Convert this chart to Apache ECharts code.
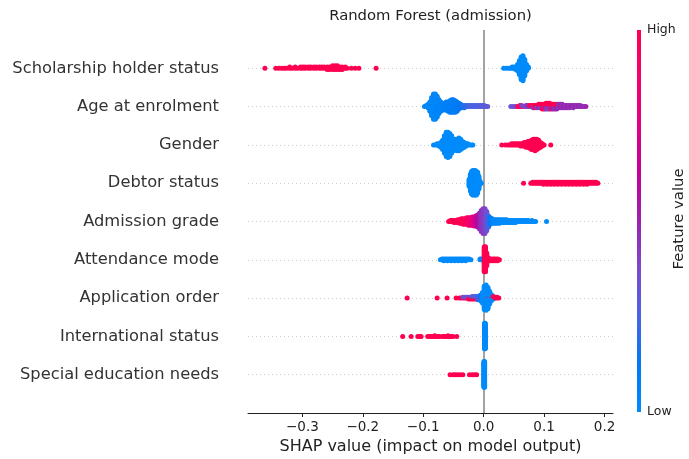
<!DOCTYPE html>
<html><head><meta charset="utf-8">
<script src="https://cdn.jsdelivr.net/npm/echarts@6/dist/echarts.min.js"></script>
<style>html,body{margin:0;padding:0;background:#fff}#c{width:689px;height:459px}</style>
</head><body><div id="c"></div>
<script>
// rows listed bottom (index 0) to top (index 8)
const featureNames = ['Special education needs','International status','Application order','Attendance mode','Admission grade','Debtor status','Gender','Age at enrolment','Scholarship holder status'];
const xTicks = [-0.3,-0.2,-0.1,0,0.1,0.2];
const colorStops = ['#008bfb','#0079f3','#4b63e3','#7d49cc','#9b23ad','#c2009c','#e00086','#f5006c','#ff0051'];

// each entry: [SHAP value, number of samples at that value, normalised feature value (0 low .. 1 high)]
const scholarship = [
  [-0.362,1,1],[-0.344,1,1],[-0.339,1,1],[-0.334,1,1],[-0.330,1,1],[-0.326,1,1],[-0.321,2,1],[-0.317,1,1],[-0.312,2,1],[-0.308,1,1],
  [-0.303,2,1],[-0.299,2,1],[-0.295,2,1],[-0.290,2,1],[-0.286,2,1],[-0.281,2,1],[-0.277,2,1],[-0.272,2,1],[-0.268,2,1],[-0.264,2,1],
  [-0.259,3,1],[-0.255,3,1],[-0.250,4,1],[-0.246,4,1],[-0.242,4,1],[-0.238,3,1],[-0.234,3,1],[-0.229,2,1],[-0.226,1,1],[-0.219,1,1],
  [-0.2125,1,1],[-0.2065,1,1],[-0.178,1,1],
  [0.033,1,0],[0.037,1,0],[0.041,1,0],[0.044,1,0],[0.047,2,0],[0.050,2,0],[0.053,3,0],[0.056,6,0],[0.059,12,0],[0.062,19,0],
  [0.065,21,0],[0.068,14,0],[0.071,6,0],[0.074,2,0]
];
const age = [
  [-0.098,1,0.02],[-0.095,2,0.02],[-0.092,4,0.02],[-0.089,9,0.02],[-0.086,17,0.03],[-0.083,23,0.03],[-0.080,23,0.03],[-0.077,19,0.04],
  [-0.074,13,0.05],[-0.071,9,0.05],[-0.068,7,0.06],[-0.065,7,0.06],[-0.062,8,0.07],[-0.059,9,0.07],[-0.056,11,0.08],[-0.053,12,0.08],
  [-0.050,12,0.09],[-0.047,11,0.1],[-0.044,9,0.1],[-0.041,6,0.12],[-0.038,4,0.14],
  [-0.035,3,0.16],[-0.032,3,0.18],[-0.029,2,0.2],[-0.026,2,0.22],[-0.023,2,0.24],[-0.020,2,0.25],[-0.017,2,0.25],[-0.014,2,0.26],
  [-0.011,2,0.26],[-0.008,2,0.27],[-0.005,2,0.27],[-0.002,2,0.28],[0.001,2,0.28],[0.004,1,0.28],[0.0066,1,0.3],
  [0.045,1,0.3],[0.049,1,0.35],[0.053,1,0.4],[0.057,1,1],[0.060,2,1],[0.063,1,1],[0.063,1,0.4],[0.067,1,0.4],[0.070,2,0.4],
  [0.073,1,0.4],[0.073,1,0.45],[0.076,1,0.4],[0.076,1,1],[0.079,1,0.45],[0.079,1,1],[0.082,2,0.4],[0.082,1,1],[0.085,1,0.45],
  [0.085,2,1],[0.088,2,0.4],[0.088,1,1],[0.091,2,0.45],[0.091,2,1],[0.094,2,0.4],[0.094,2,1],[0.097,2,0.45],[0.097,3,1],
  [0.100,2,0.4],[0.100,3,1],[0.103,3,0.45],[0.103,3,1],[0.106,3,0.4],[0.106,3,1],[0.109,3,0.45],[0.109,3,1],[0.112,2,0.4],
  [0.112,3,1],[0.115,3,0.5],[0.115,2,1],[0.118,3,0.45],[0.118,2,1],[0.121,3,0.5],[0.121,2,1],[0.124,3,0.45],[0.124,1,1],
  [0.127,3,0.5],[0.127,1,1],[0.130,3,0.45],[0.130,1,1],[0.133,3,0.5],[0.136,3,0.45],[0.139,3,0.5],[0.142,3,0.45],[0.145,2,0.5],
  [0.148,3,0.45],[0.151,2,0.5],[0.154,2,0.45],[0.157,2,0.5],[0.160,2,0.45],[0.163,1,0.5],[0.166,1,0.45],[0.169,1,0.5]
];
const gender = [
  [-0.083,1,0],[-0.080,1,0],[-0.077,2,0],[-0.074,3,0],[-0.071,5,0],[-0.068,9,0],[-0.065,16,0],[-0.062,22,0],[-0.059,23,0],
  [-0.056,21,0],[-0.053,16,0],[-0.050,11,0],[-0.047,10,0],[-0.044,11,0],[-0.041,12,0],[-0.038,10,0],[-0.035,7,0],[-0.032,5,0],
  [-0.029,3,0],[-0.026,2,0],[-0.023,1,0],[-0.020,1,0],[-0.018,1,0],
  [0.030,1,1],[0.036,1,1],[0.040,1,1],[0.043,1,1],[0.046,2,1],[0.049,2,1],[0.052,2,1],[0.055,2,1],[0.058,2,1],[0.061,3,1],
  [0.064,3,1],[0.067,4,1],[0.070,5,1],[0.073,6,1],[0.076,7,1],[0.079,9,1],[0.082,10,1],[0.085,11,1],[0.088,10,1],[0.091,8,1],
  [0.094,5,1],[0.097,3,1],[0.100,1,1],[0.111,1,1]
];
const debtor = [
  [-0.024,8,0],[-0.022,18,0],[-0.020,24,0],[-0.018,26,0],[-0.016,26,0],[-0.014,26,0],[-0.012,25,0],[-0.010,22,0],[-0.008,14,0],
  [-0.006,4,0],[-0.004,1,0],
  [0.066,1,1],[0.078,1,1],[0.081,2,1],[0.084,2,1],[0.087,2,1],[0.090,2,1],[0.093,2,1],[0.096,2,1],[0.099,3,1],[0.102,2,1],
  [0.105,3,1],[0.108,2,1],[0.111,3,1],[0.114,2,1],[0.117,3,1],[0.120,2,1],[0.123,3,1],[0.126,2,1],[0.129,3,1],[0.132,2,1],
  [0.135,3,1],[0.138,2,1],[0.141,3,1],[0.144,2,1],[0.147,3,1],[0.150,2,1],[0.153,3,1],[0.156,2,1],[0.159,3,1],[0.162,2,1],
  [0.165,3,1],[0.168,2,1],[0.171,3,1],[0.174,2,1],[0.177,2,1],[0.180,2,1],[0.183,2,1],[0.186,2,1],[0.189,1,1]
];
const admission = [
  [-0.058,1,1],[-0.055,2,1],[-0.052,2,1],[-0.049,3,1],[-0.046,3,1],[-0.043,4,1],[-0.040,5,1],[-0.037,6,1],[-0.034,7,1],
  [-0.031,7,0.95],[-0.028,8,0.95],[-0.025,9,0.9],[-0.022,9,0.85],[-0.019,10,0.8],[-0.016,11,0.75],[-0.013,12,0.68],
  [-0.010,14,0.6],[-0.007,18,0.52],[-0.004,24,0.45],[-0.001,28,0.42],[0.002,28,0.4],[0.005,22,0.33],[0.008,13,0.22],
  [0.011,8,0.12],[0.014,6,0.06],[0.017,5,0.03],[0.020,5,0.02],[0.023,5,0.02],[0.026,5,0.02],[0.029,4,0.01],[0.032,4,0.01],
  [0.035,4,0],[0.038,4,0],[0.041,3,0],[0.044,3,0],[0.047,3,0],[0.050,3,0],[0.053,3,0],[0.056,2,0],[0.059,2,0],[0.062,2,0],
  [0.065,2,0],[0.068,2,0],[0.071,2,0],[0.074,2,0],[0.077,1,0],[0.080,2,0],[0.083,1,0],[0.086,1,0],[0.104,1,0]
];
const attendance = [
  [-0.0716,1,0],[-0.069,2,0],[-0.066,3,0],[-0.063,2,0],[-0.060,3,0],[-0.057,2,0],[-0.054,3,0],[-0.051,2,0],[-0.048,3,0],
  [-0.045,2,0],[-0.042,3,0],[-0.039,2,0],[-0.036,3,0],[-0.033,2,0],[-0.030,3,0],[-0.027,2,0],[-0.024,2,0],[-0.021,1,0],
  [-0.006,2,0],[-0.004,2,0],
  [0.001,30,1],[0.003,30,1],[0.005,16,1],[0.008,4,1],[0.011,3,1],[0.014,3,1],[0.017,3,1],[0.020,3,1],[0.023,3,1],[0.026,1,1]
];
const application = [
  [-0.1266,1,1],[-0.077,1,1],[-0.0605,1,1],[-0.0456,1,1],[-0.040,1,1],[-0.037,1,1],[-0.034,1,1],[-0.034,1,0.35],
  [-0.031,1,1],[-0.031,1,0.3],[-0.028,1,1],[-0.028,1,0.3],[-0.025,2,1],[-0.025,1,0.3],[-0.022,2,1],[-0.022,1,0.3],
  [-0.019,2,1],[-0.019,2,0.28],[-0.016,2,1],[-0.016,2,0.25],[-0.013,2,1],[-0.013,2,0.25],[-0.010,2,1],[-0.010,3,0.22],
  [-0.007,2,1],[-0.007,4,0.2],[-0.004,2,1],[-0.004,7,0.1],[-0.002,14,0],[0.001,30,0],[0.004,32,0],[0.007,26,0],[0.007,1,1],
  [0.010,14,0],[0.010,2,1],[0.013,6,0],[0.013,2,1],[0.016,2,0],[0.016,2,1],[0.019,2,1],[0.022,2,1],[0.025,1,1]
];
const international = [
  [-0.134,1,1],[-0.120,1,1],[-0.109,1,1],[-0.106,1,1],[-0.1035,1,1],[-0.0926,1,1],[-0.090,1,1],[-0.087,1,1],[-0.084,1,1],
  [-0.081,2,1],[-0.078,1,1],[-0.075,1,1],[-0.073,1,1],[-0.068,1,1],[-0.065,1,1],[-0.062,1,1],[-0.059,2,1],[-0.056,1,1],
  [-0.053,1,1],[-0.051,1,1],[-0.0446,1,1],
  [0.0015,40,0],[0.0025,40,0]
];
const special = [
  [-0.0556,1,1],[-0.0505,1,1],[-0.047,1,1],[-0.043,1,1],[-0.039,1,1],[-0.0345,1,1],[-0.0235,1,1],[-0.019,1,1],[-0.015,1,1],
  [-0.0116,1,1],
  [0.0005,40,0],[0.0015,40,0]
];
const rows = [special, international, application, attendance, admission, debtor, gender, age, scholarship];

// beeswarm stacking as in shap's summary plot (alternating layers above / below the row line)
function swarm(entries, rowIndex) {
  const groups = new Map(); const order = [];
  entries.forEach(([v, n, f]) => {
    const k = v.toFixed(4);
    if (!groups.has(k)) { groups.set(k, []); order.push(k); }
    groups.get(k).push({ v, n, f });
  });
  const pts = []; let maxOff = 0;
  order.forEach(k => {
    const list = groups.get(k).map(e => ({ v: e.v, f: e.f, left: e.n }));
    let layer = 0, any = true;
    while (any) {
      any = false;
      for (const e of list) {
        if (e.left > 0) {
          e.left--; any = true;
          const off = Math.ceil(layer / 2) * ((layer % 2) * 2 - 1);
          maxOff = Math.max(maxOff, Math.abs(off));
          pts.push([e.v, off, e.f]);
          layer++;
        }
      }
    }
  });
  const scale = 0.9 * 0.4 / (maxOff + 1);
  return pts.map(p => [p[0], rowIndex + p[1] * scale, p[2]]);
}
const points = [];
rows.forEach((r, i) => swarm(r, i).forEach(p => points.push(p)));

const FONT = 'DejaVu Sans';
const chart = echarts.init(document.getElementById('c'), null, { renderer: 'canvas' });
chart.setOption({
  animation: false,
  backgroundColor: '#fff',
  grid: { left: 248, right: 76, top: 30, bottom: 46, containLabel: false, outerBoundsMode: 'none' },
  xAxis: {
    type: 'value', min: -0.39, max: 0.214,
    axisLine: { show: true, onZero: false, lineStyle: { color: '#222', width: 1 } },
    axisTick: { show: true, length: 4, customValues: xTicks, lineStyle: { color: '#222' } },
    axisLabel: { customValues: xTicks, fontSize: 13.5, color: '#222', margin: 7, fontFamily: FONT,
      formatter: v => (v < 0 ? '\u2212' : '') + Math.abs(v).toFixed(1) },
    splitLine: { show: false },
    name: 'SHAP value (impact on model output)', nameLocation: 'middle', nameGap: 21,
    nameTextStyle: { fontSize: 16, color: '#222', fontFamily: FONT }
  },
  yAxis: {
    type: 'value', min: -1, max: 9, interval: 1,
    axisLine: { show: false }, axisTick: { show: false },
    axisLabel: { fontSize: 16.3, color: '#333', margin: 29, fontFamily: FONT,
      formatter: v => { const i = Math.round(v); return (i >= 0 && i < featureNames.length) ? featureNames[i] : ''; } },
    splitLine: { show: true, showMinLine: false, showMaxLine: false, lineStyle: { color: '#cccccc', width: 1, type: [1, 3] } }
  },
  visualMap: { type: 'continuous', show: false, min: 0, max: 1, dimension: 2, seriesIndex: 0, inRange: { color: colorStops } },
  series: [{
    type: 'scatter', data: points, symbolSize: 5, z: 3,
    itemStyle: { opacity: 1 },
    emphasis: { disabled: true },
    markLine: { silent: true, z: 1, symbol: ['none', 'none'], label: { show: false }, emphasis: { disabled: true },
      lineStyle: { color: '#999999', width: 1.8, type: 'solid' }, data: [{ xAxis: 0 }] }
  }],
  graphic: [
    { type: 'text', x: 430.5, y: 16.5, silent: true,
      style: { text: 'Random Forest (admission)', font: '14.8px "DejaVu Sans"', fill: '#222', align: 'center', verticalAlign: 'middle' } },
    { type: 'rect', silent: true, shape: { x: 637, y: 30, width: 4, height: 382 },
      style: { fill: new echarts.graphic.LinearGradient(0, 1, 0, 0, colorStops.map((c, i) => ({ offset: i / (colorStops.length - 1), color: c }))) } },
    { type: 'text', x: 647, y: 30, silent: true,
      style: { text: 'High', font: '12.5px "DejaVu Sans"', fill: '#222', align: 'left', verticalAlign: 'middle' } },
    { type: 'text', x: 647, y: 412, silent: true,
      style: { text: 'Low', font: '12.5px "DejaVu Sans"', fill: '#222', align: 'left', verticalAlign: 'middle' } },
    { type: 'text', x: 679, y: 219, rotation: Math.PI / 2, silent: true,
      style: { text: 'Feature value', font: '14.8px "DejaVu Sans"', fill: '#222', align: 'center', verticalAlign: 'middle' } }
  ]
});
</script></body></html>
